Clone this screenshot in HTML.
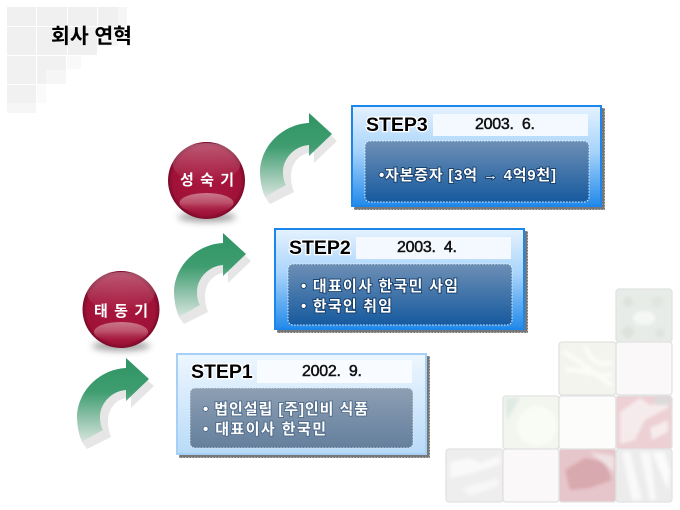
<!DOCTYPE html>
<html lang="ko">
<head>
<meta charset="utf-8">
<title>회사 연혁</title>
<style>
html,body{margin:0;padding:0;background:#fff;width:680px;height:510px;overflow:hidden}
svg{display:block}
text{font-family:"Liberation Sans","Noto Sans CJK KR",sans-serif}
.step{font-weight:700;font-size:19.5px;fill:#000;stroke:#fff;stroke-width:2.5;paint-order:stroke}
.date{font-size:16px;font-weight:400;fill:#111;stroke:#111;stroke-width:.5;white-space:pre}
.body{font-size:15px;font-weight:700;fill:#fff;stroke:#123a66;stroke-width:1.8;paint-order:stroke;white-space:pre}
.sph{font-size:15px;font-weight:700;fill:#fff;text-anchor:middle;white-space:pre}
</style>
</head>
<body>
<svg width="680" height="510" viewBox="0 0 680 510" xmlns="http://www.w3.org/2000/svg">
<defs>
<linearGradient id="arr" x1="0" y1="0" x2="0" y2="1"><stop offset="0" stop-color="#2f9464"/><stop offset=".4" stop-color="#3f9d70"/><stop offset="1" stop-color="#d8e4de"/></linearGradient>
<linearGradient id="p3" x1="0" y1="0" x2="0" y2="1"><stop offset="0" stop-color="#e6f3ff"/><stop offset=".45" stop-color="#a8d4fb"/><stop offset="1" stop-color="#1f88ea"/></linearGradient>
<linearGradient id="p1" x1="0" y1="0" x2="0" y2="1"><stop offset="0" stop-color="#eef7ff"/><stop offset="1" stop-color="#b8daf8"/></linearGradient>
<linearGradient id="in3" x1="0" y1="0" x2="0" y2="1"><stop offset="0" stop-color="#6d8fb5"/><stop offset="1" stop-color="#165a9f"/></linearGradient>
<linearGradient id="in1" x1="0" y1="0" x2="0" y2="1"><stop offset="0" stop-color="#8d9fb3"/><stop offset="1" stop-color="#647f9d"/></linearGradient>
<radialGradient id="ball" cx=".5" cy=".5" r=".52"><stop offset="0" stop-color="#a9163d"/><stop offset=".85" stop-color="#a01238"/><stop offset="1" stop-color="#6d0723"/></radialGradient>
<linearGradient id="gloss" x1="0" y1="0" x2="0" y2="1"><stop offset="0" stop-color="#fff" stop-opacity=".3"/><stop offset="1" stop-color="#fff" stop-opacity="0"/></linearGradient>
<linearGradient id="low" x1="0" y1="0" x2="0" y2="1"><stop offset="0" stop-color="#c9788a"/><stop offset=".5" stop-color="#bb4d68"/><stop offset="1" stop-color="#a51a40" stop-opacity=".2"/></linearGradient>
<filter id="b3" x="-40%" y="-100%" width="180%" height="300%"><feGaussianBlur stdDeviation="3.5"/></filter>
<filter id="b1" x="-20%" y="-20%" width="140%" height="140%"><feGaussianBlur stdDeviation="1.6"/></filter>
<g id="arrow">
<path d="M314 120 L337 141 L314 163 L314 152 C300 153 291 162 291 177 C291 182 292 187 294 192 L270 204 L265 197 L286 185 C284 182 283 177 283 172 C283 158 295 146 309 145 L309 156 Z" fill="#e6e6e6"/>
<path d="M309 113 L332 134 L309 156 L309 145 C295 146 283 158 283 172 C283 177 284 182 286 185 L265 197 C261 188 260 178 260 170 C262 143 285 124 309 123 Z" fill="url(#arr)"/>
</g>
</defs>

<!-- top-left pale squares -->
<g>
<rect x="7" y="7" width="29" height="19" fill="#f0f0f0"/><rect x="37" y="7" width="30" height="19" fill="#f0f0f0"/><rect x="68" y="7" width="29" height="19" fill="#f0f0f0"/><rect x="98" y="7" width="20" height="19" fill="#f0f0f0"/><rect x="118" y="7" width="9" height="19" fill="#f6f6f6"/>
<rect x="7" y="27" width="29" height="28" fill="#f0f0f0"/><rect x="37" y="27" width="30" height="28" fill="#f0f0f0"/><rect x="68" y="27" width="29" height="28" fill="#f0f0f0"/><rect x="98" y="27" width="20" height="19" fill="#f5f5f5"/>
<rect x="7" y="56" width="29" height="28" fill="#f1f1f1"/><rect x="37" y="56" width="29" height="28" fill="#f1f1f1"/><rect x="67" y="56" width="14" height="13" fill="#f9f9f9"/>
<rect x="46" y="70" width="20" height="14" fill="#f6f6f6"/>
<rect x="7" y="85" width="29" height="18" fill="#f1f1f1"/><rect x="37" y="85" width="9" height="18" fill="#fafafa"/>
<rect x="7" y="103" width="29" height="10" fill="#f6f6f6"/>
</g>

<!-- bottom-right tiles -->
<g>
<g stroke="#e2e2e2" stroke-width="1.3">
<rect x="616" y="289" width="56" height="53" rx="3" fill="#e8ece8"/>
<rect x="559" y="342" width="57" height="53" rx="3" fill="#f3f4ee"/>
<rect x="616" y="342" width="56" height="53" rx="3" fill="#faf8f9"/>
<rect x="503" y="396" width="56" height="53" rx="3" fill="#f2f6ee"/>
<rect x="559" y="396" width="57" height="53" rx="3" fill="#fcfcfb"/>
<rect x="616" y="396" width="56" height="53" rx="3" fill="#ecd0d4"/>
<rect x="446" y="449" width="57" height="53" rx="3" fill="#eeeeee"/>
<rect x="503" y="449" width="56" height="53" rx="3" fill="#faf8f8"/>
<rect x="559" y="449" width="57" height="53" rx="3" fill="#e6c6ca"/>
<rect x="616" y="449" width="56" height="53" rx="3" fill="#ececec"/>
</g>
<g filter="url(#b1)">
<ellipse cx="644" cy="318" rx="11" ry="7" fill="#f5f7f5"/><circle cx="628" cy="302" r="5" fill="#dde2dd"/><circle cx="657" cy="302" r="6" fill="#e0e6e0"/><circle cx="628" cy="332" r="6" fill="#dde2dd"/><circle cx="660" cy="333" r="5" fill="#dfe3df"/>
<path d="M563 352 C580 360 595 375 612 385 M565 370 C580 368 600 378 612 374 M585 346 C590 360 600 368 612 362" stroke="#fbfbf7" stroke-width="5" fill="none"/>
<circle cx="537" cy="426" r="20" fill="#f9fbf5"/><path d="M505 398 L520 398 L507 420 Z" fill="#dfeae4"/>
<path d="M620 412 L640 398 L650 405 L668 400 L668 408 L645 420 L635 440 L620 444 Z" fill="#f6ebec"/><path d="M650 428 L668 420 L668 432 L652 440 Z" fill="#f6ecee"/><rect x="655" y="397" width="16" height="8" fill="#dcdada"/>
<path d="M450 462 L470 458 L480 463 L500 456 L500 464 L470 474 L450 478 Z" fill="#f9f9f9"/><path d="M462 488 L498 478 L498 486 L470 496 Z" fill="#f7f7f7"/>
<path d="M565 470 L585 458 L605 462 L612 480 L590 488 L570 490 Z" fill="#d8a9af"/><path d="M590 452 L614 456 L614 472 Z" fill="#efe2e3"/>
<path d="M622 452 L632 500 L642 500 L630 452 Z M640 452 L650 500 L656 500 L650 452 Z" fill="#f9f9f9"/><path d="M652 452 L668 490 L670 470 L664 452 Z" fill="#fbfbfb"/>
</g>
</g>

<!-- title -->
<text x="51" y="43" font-size="20.5" font-weight="700" fill="#000" textLength="81" lengthAdjust="spacing" style="font-family:'Noto Sans CJK KR',sans-serif">회사 연혁</text>

<!-- arrows -->
<use href="#arrow"/>
<use href="#arrow" transform="translate(-86 120)"/>
<use href="#arrow" transform="translate(-183 245)"/>

<!-- sphere 1 -->
<ellipse cx="207" cy="217" rx="29" ry="5" fill="#555" opacity=".55" filter="url(#b3)"/>
<circle cx="206.5" cy="180.5" r="38.5" fill="url(#ball)"/>
<ellipse cx="206.5" cy="163" rx="34" ry="20" fill="url(#gloss)"/>
<ellipse cx="206.5" cy="203" rx="27" ry="10" fill="url(#low)"/>
<text class="sph" x="207" y="185" textLength="54" lengthAdjust="spacing">성 숙 기</text>

<!-- sphere 2 -->
<ellipse cx="121" cy="346" rx="29" ry="5" fill="#555" opacity=".55" filter="url(#b3)"/>
<circle cx="121" cy="309.5" r="38.5" fill="url(#ball)"/>
<ellipse cx="121" cy="292" rx="34" ry="20" fill="url(#gloss)"/>
<ellipse cx="121" cy="332" rx="27" ry="10" fill="url(#low)"/>
<text class="sph" x="121" y="316" textLength="54" lengthAdjust="spacing">태 동 기</text>

<!-- STEP3 panel -->
<rect x="354" y="108" width="251" height="102" fill="#777"/>
<rect x="354.5" y="108.5" width="250" height="101" fill="none" stroke="#fff" stroke-width="1" stroke-dasharray="1.5 1.5" opacity=".5"/>
<rect x="351" y="105" width="251" height="102" fill="url(#p3)"/>
<rect x="352" y="106" width="249" height="100" fill="none" stroke="#1d86ea" stroke-width="2"/>
<rect x="433" y="114" width="155" height="22" fill="#f4f9ff"/>
<rect x="365" y="141" width="224" height="61" rx="5" fill="url(#in3)" stroke="#e8f2ff" stroke-width="1" stroke-dasharray="1.5 1.5"/>
<text class="step" x="366" y="131">STEP3</text>
<text class="date" x="475" y="129" textLength="60" lengthAdjust="spacing">2003.  6.</text>
<text class="body" x="379" y="180" textLength="177" lengthAdjust="spacing">•자본증자 [3억 → 4억9천]</text>

<!-- STEP2 panel -->
<rect x="277" y="231" width="251" height="102" fill="#777"/>
<rect x="277.5" y="231.5" width="250" height="101" fill="none" stroke="#fff" stroke-width="1" stroke-dasharray="1.5 1.5" opacity=".5"/>
<rect x="274" y="228" width="251" height="102" fill="url(#p3)"/>
<rect x="275" y="229" width="249" height="100" fill="none" stroke="#1d86ea" stroke-width="2"/>
<rect x="356" y="237" width="155" height="22" fill="#f4f9ff"/>
<rect x="288" y="264" width="224" height="61" rx="5" fill="url(#in3)" stroke="#e8f2ff" stroke-width="1" stroke-dasharray="1.5 1.5"/>
<text class="step" x="289" y="254">STEP2</text>
<text class="date" x="397" y="252" textLength="60" lengthAdjust="spacing">2003.  4.</text>
<text class="body" x="301" y="291" textLength="157" lengthAdjust="spacing">• 대표이사 한국민 사임</text>
<text class="body" x="301" y="311" textLength="91" lengthAdjust="spacing">• 한국인 취임</text>

<!-- STEP1 panel -->
<rect x="179" y="356" width="251" height="102" fill="#777"/>
<rect x="179.5" y="356.5" width="250" height="101" fill="none" stroke="#fff" stroke-width="1" stroke-dasharray="1.5 1.5" opacity=".5"/>
<rect x="176" y="353" width="251" height="102" fill="url(#p1)"/>
<rect x="177" y="354" width="249" height="100" fill="none" stroke="#a6d0f5" stroke-width="2"/>
<rect x="257" y="360" width="155" height="23" fill="#f8fbff"/>
<rect x="190" y="388" width="223" height="60" rx="5" fill="url(#in1)" stroke="#dfe9f3" stroke-width="1" stroke-dasharray="1.5 1.5"/>
<text class="step" x="191" y="378">STEP1</text>
<text class="date" x="302" y="376" textLength="60" lengthAdjust="spacing">2002.  9.</text>
<text class="body" x="203" y="414" textLength="165" lengthAdjust="spacing" style="stroke:#4e6a88">• 법인설립 [주]인비 식품</text>
<text class="body" x="203" y="434" textLength="123" lengthAdjust="spacing" style="stroke:#4e6a88">• 대표이사 한국민</text>
</svg>
</body>
</html>
